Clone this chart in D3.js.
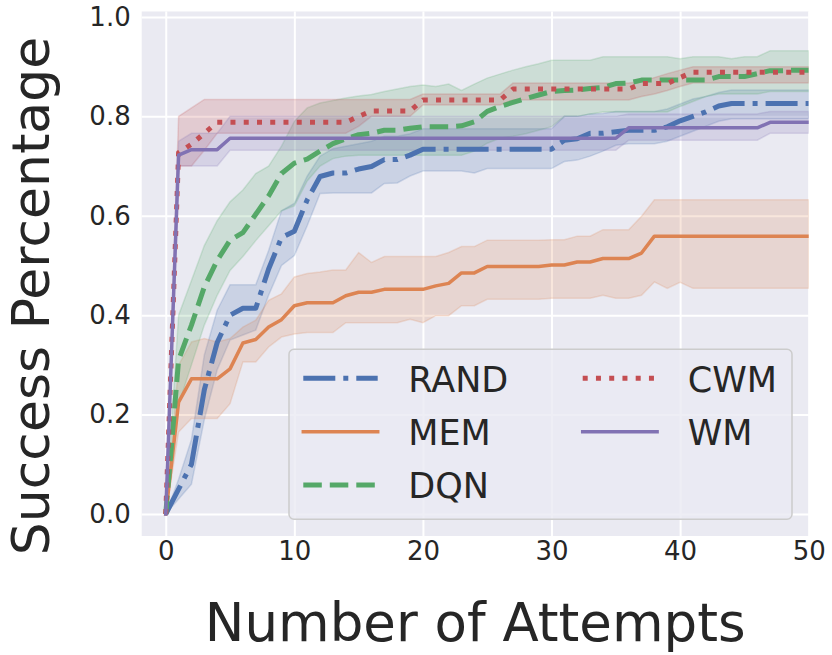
<!DOCTYPE html>
<html>
<head>
<meta charset="utf-8">
<script src="https://cdn.jsdelivr.net/npm/d3@7"></script>
<style>
  body { margin: 0; background: #fff; }
  svg text { font-family: "DejaVu Sans", sans-serif; fill: #262626; }
</style>
</head>
<body>
<svg id="canvas"></svg>
<script>
// data (attempt number -> success rate, with CI bands)
let attempts = [0,1,2,3,4,5,6,7,8,9,10,11,12,13,14,15,16,17,18,19,20,21,22,23,24,25,26,27,28,29,30,31,32,33,34,35,36,37,38,39,40,41,42,43,44,45,46,47,48,49,50];

let randMean = [0,0.05,0.10,0.25,0.345,0.40,0.414,0.414,0.493,0.556,0.569,0.632,0.679,0.686,0.686,0.694,0.699,0.713,0.713,0.722,0.734,0.734,0.734,0.734,0.734,0.734,0.734,0.734,0.734,0.734,0.734,0.752,0.755,0.766,0.766,0.769,0.772,0.772,0.772,0.779,0.791,0.80,0.809,0.821,0.826,0.826,0.826,0.826,0.826,0.826,0.826];
let randLo = [0,0.03,0.06,0.19,0.29,0.35,0.36,0.37,0.44,0.50,0.52,0.58,0.645,0.646,0.646,0.646,0.646,0.665,0.666,0.68,0.69,0.69,0.69,0.69,0.686,0.695,0.695,0.695,0.695,0.695,0.695,0.709,0.712,0.72,0.73,0.742,0.745,0.745,0.745,0.75,0.76,0.77,0.78,0.79,0.795,0.795,0.795,0.795,0.795,0.795,0.795];
let randHi = [0,0.07,0.15,0.32,0.41,0.461,0.461,0.461,0.53,0.61,0.625,0.68,0.72,0.735,0.74,0.745,0.75,0.76,0.76,0.765,0.775,0.775,0.775,0.775,0.775,0.775,0.775,0.775,0.775,0.775,0.775,0.80,0.80,0.805,0.806,0.81,0.81,0.81,0.81,0.815,0.825,0.835,0.84,0.848,0.853,0.853,0.853,0.853,0.853,0.853,0.853];

let memMean = [0,0.225,0.272,0.272,0.272,0.292,0.344,0.351,0.376,0.391,0.419,0.425,0.425,0.425,0.439,0.446,0.446,0.452,0.452,0.452,0.452,0.459,0.464,0.485,0.485,0.498,0.498,0.498,0.498,0.498,0.501,0.501,0.507,0.507,0.514,0.514,0.514,0.525,0.559,0.559,0.559,0.559,0.559,0.559,0.559,0.559,0.559,0.559,0.559,0.559,0.559];
let memLo = [0,0.165,0.192,0.192,0.192,0.222,0.306,0.306,0.336,0.356,0.362,0.365,0.365,0.365,0.385,0.385,0.385,0.385,0.385,0.392,0.385,0.399,0.399,0.419,0.419,0.432,0.432,0.432,0.432,0.432,0.434,0.434,0.434,0.434,0.44,0.434,0.434,0.44,0.467,0.454,0.466,0.454,0.454,0.454,0.454,0.454,0.454,0.454,0.454,0.454,0.454];
let memHi = [0,0.30,0.346,0.353,0.346,0.353,0.376,0.39,0.43,0.443,0.477,0.484,0.487,0.491,0.491,0.526,0.506,0.518,0.518,0.518,0.518,0.518,0.526,0.538,0.538,0.551,0.551,0.551,0.551,0.551,0.552,0.552,0.559,0.559,0.572,0.572,0.572,0.599,0.632,0.632,0.632,0.632,0.632,0.632,0.632,0.632,0.632,0.632,0.632,0.632,0.632];

let dqnMean = [0,0.31,0.38,0.457,0.51,0.551,0.566,0.603,0.64,0.685,0.706,0.714,0.73,0.745,0.755,0.763,0.766,0.772,0.772,0.776,0.779,0.779,0.779,0.781,0.789,0.81,0.82,0.828,0.836,0.843,0.85,0.852,0.853,0.856,0.858,0.866,0.867,0.873,0.873,0.873,0.873,0.873,0.873,0.88,0.88,0.88,0.886,0.892,0.892,0.893,0.893];
let dqnLo = [0,0.22,0.30,0.38,0.44,0.49,0.518,0.55,0.58,0.61,0.62,0.67,0.70,0.715,0.72,0.722,0.722,0.722,0.722,0.722,0.722,0.722,0.722,0.722,0.73,0.746,0.756,0.76,0.765,0.772,0.779,0.80,0.80,0.805,0.809,0.809,0.809,0.809,0.809,0.809,0.82,0.83,0.84,0.845,0.845,0.845,0.845,0.85,0.85,0.85,0.85];
let dqnHi = [0,0.40,0.47,0.54,0.59,0.628,0.652,0.685,0.70,0.74,0.79,0.817,0.827,0.832,0.837,0.841,0.844,0.85,0.855,0.86,0.863,0.86,0.865,0.852,0.865,0.877,0.885,0.893,0.90,0.906,0.913,0.913,0.913,0.913,0.92,0.92,0.92,0.92,0.92,0.92,0.916,0.92,0.92,0.92,0.916,0.92,0.92,0.932,0.932,0.932,0.932];

let cwmMean = [0,0.727,0.744,0.766,0.788,0.788,0.788,0.788,0.788,0.788,0.788,0.788,0.788,0.788,0.788,0.80,0.811,0.811,0.811,0.811,0.833,0.833,0.833,0.833,0.833,0.833,0.833,0.855,0.855,0.855,0.855,0.855,0.855,0.855,0.855,0.855,0.855,0.866,0.866,0.866,0.878,0.889,0.889,0.889,0.889,0.889,0.889,0.889,0.889,0.889,0.889];
let cwmLo = [0,0.70,0.70,0.732,0.766,0.766,0.766,0.766,0.766,0.766,0.766,0.766,0.766,0.766,0.766,0.78,0.80,0.80,0.80,0.80,0.823,0.823,0.823,0.823,0.823,0.823,0.823,0.833,0.833,0.833,0.833,0.833,0.833,0.833,0.833,0.833,0.833,0.84,0.845,0.852,0.86,0.867,0.867,0.867,0.867,0.867,0.867,0.867,0.867,0.867,0.867];
let cwmHi = [0,0.80,0.817,0.834,0.834,0.834,0.834,0.834,0.834,0.834,0.834,0.834,0.834,0.834,0.834,0.834,0.834,0.834,0.834,0.834,0.845,0.845,0.845,0.845,0.845,0.845,0.845,0.867,0.867,0.867,0.867,0.867,0.867,0.867,0.867,0.867,0.867,0.87,0.878,0.886,0.893,0.90,0.90,0.90,0.90,0.90,0.90,0.90,0.90,0.90,0.90];

let wmMean = [0,0.722,0.733,0.733,0.733,0.756,0.756,0.756,0.756,0.756,0.756,0.756,0.756,0.756,0.756,0.756,0.756,0.756,0.756,0.756,0.756,0.756,0.756,0.756,0.756,0.756,0.756,0.756,0.756,0.756,0.756,0.756,0.756,0.756,0.756,0.756,0.777,0.777,0.777,0.777,0.777,0.777,0.777,0.777,0.777,0.777,0.777,0.788,0.788,0.788,0.788];
let wmLo = [0,0.70,0.70,0.70,0.70,0.732,0.732,0.732,0.732,0.732,0.732,0.732,0.732,0.732,0.732,0.732,0.732,0.732,0.732,0.732,0.732,0.732,0.732,0.732,0.732,0.732,0.732,0.732,0.732,0.732,0.732,0.732,0.732,0.732,0.732,0.732,0.752,0.752,0.752,0.752,0.752,0.752,0.752,0.752,0.752,0.752,0.752,0.766,0.766,0.766,0.766];
let wmHi = [0,0.75,0.766,0.766,0.766,0.80,0.80,0.80,0.80,0.80,0.80,0.80,0.80,0.80,0.80,0.80,0.80,0.80,0.80,0.80,0.80,0.80,0.80,0.80,0.80,0.80,0.80,0.80,0.80,0.80,0.80,0.80,0.80,0.80,0.80,0.80,0.805,0.805,0.805,0.805,0.805,0.805,0.805,0.805,0.805,0.805,0.805,0.81,0.81,0.81,0.81];

let labels = ['RAND','MEM','DQN','CWM','WM'];
let xTicks = [0,10,20,30,40,50];
let yTicks = [0,0.2,0.4,0.6,0.8,1.0];

let series = [
  {name: labels[0], mean: randMean, lo: randLo, hi: randHi, color: '#4C72B0', width: 5,   dash: '32,8,5,8'},
  {name: labels[1], mean: memMean,  lo: memLo,  hi: memHi,  color: '#DD8452', width: 3.5, dash: null},
  {name: labels[2], mean: dqnMean,  lo: dqnLo,  hi: dqnHi,  color: '#55A868', width: 5,   dash: '18.5,8'},
  {name: labels[3], mean: cwmMean,  lo: cwmLo,  hi: cwmHi,  color: '#C44E52', width: 5,   dash: '5,8.25'},
  {name: labels[4], mean: wmMean,   lo: wmLo,   hi: wmHi,   color: '#8172B3', width: 3.5, dash: null}
];

let width = 832;
let height = 655;
let plotLeft = 141.7, plotRight = 808.7, plotTop = 11.5, plotBottom = 536;

let canvas = d3.select('#canvas')
canvas.attr('width', width)
canvas.attr('height', height)

let xScale = d3.scaleLinear().domain([-1.87, 50]).range([plotLeft, plotRight])
let yScale = d3.scaleLinear().domain([-0.0443, 1.011]).range([plotBottom, plotTop])

// axes background
canvas.append('rect')
  .attr('x', plotLeft).attr('y', plotTop)
  .attr('width', plotRight - plotLeft).attr('height', plotBottom - plotTop)
  .attr('fill', '#EAEAF2')

canvas.append('clipPath').attr('id', 'plotclip')
  .append('rect')
  .attr('x', plotLeft).attr('y', plotTop)
  .attr('width', plotRight - plotLeft).attr('height', plotBottom - plotTop)

let drawAxis = () => {
  let xAxis = d3.axisBottom(xScale)
    .tickValues(xTicks)
    .tickFormat(d3.format('d'))
    .tickSize(-(plotBottom - plotTop))
    .tickPadding(6)
  let gx = canvas.append('g')
    .attr('transform', `translate(0,${plotBottom})`)
    .call(xAxis)
  gx.select('.domain').remove()
  gx.selectAll('line').attr('stroke', '#fff').attr('stroke-width', 2)
  gx.selectAll('text').attr('font-size', 26).attr('font-family', 'DejaVu Sans').attr('fill', '#262626')

  let yAxis = d3.axisLeft(yScale)
    .tickValues(yTicks)
    .tickFormat(d3.format('.1f'))
    .tickSize(-(plotRight - plotLeft))
    .tickPadding(11)
  let gy = canvas.append('g')
    .attr('transform', `translate(${plotLeft},0)`)
    .call(yAxis)
  gy.select('.domain').remove()
  gy.selectAll('line').attr('stroke', '#fff').attr('stroke-width', 2)
  gy.selectAll('text').attr('font-size', 26).attr('font-family', 'DejaVu Sans').attr('fill', '#262626')
}

let drawSeries = () => {
  let plot = canvas.append('g').attr('clip-path', 'url(#plotclip)')

  let band = d3.area()
    .x((d, i) => xScale(attempts[i]))
    .y0(d => yScale(d[0]))
    .y1(d => yScale(d[1]))

  plot.selectAll('path.band')
    .data(series)
    .enter()
    .append('path')
    .attr('class', 'band')
    .attr('d', s => band(s.lo.map((v, i) => [v, s.hi[i]])))
    .attr('fill', s => s.color)
    .attr('fill-opacity', 0.2)
    .attr('stroke', s => s.color)
    .attr('stroke-opacity', 0.2)
    .attr('stroke-width', 1.5)

  let line = d3.line()
    .x((d, i) => xScale(attempts[i]))
    .y(d => yScale(d))

  plot.selectAll('path.mean')
    .data(series)
    .enter()
    .append('path')
    .attr('class', 'mean')
    .attr('d', s => line(s.mean))
    .attr('fill', 'none')
    .attr('stroke', s => s.color)
    .attr('stroke-width', s => s.width)
    .attr('stroke-dasharray', s => s.dash)
    .attr('stroke-linejoin', 'round')
    .attr('stroke-linecap', s => s.dash ? 'butt' : 'square')
}

let drawLegend = () => {
  let lg = canvas.append('g')
  lg.append('rect')
    .attr('x', 289).attr('y', 349.3)
    .attr('width', 503).attr('height', 170)
    .attr('rx', 5)
    .attr('fill', '#EAEAF2').attr('fill-opacity', 0.8)
    .attr('stroke', '#cccccc').attr('stroke-width', 1.5)

  let rows = [378.3, 431.7, 485]
  let cols = [303.3, 582.7]
  series.forEach((s, i) => {
    let c = Math.floor(i / 3), r = i % 3
    let x0 = cols[c], y0 = rows[r]
    lg.append('line')
      .attr('x1', x0).attr('x2', x0 + 74.4)
      .attr('y1', y0).attr('y2', y0)
      .attr('stroke', s.color)
      .attr('stroke-width', s.width)
      .attr('stroke-dasharray', s.dash)
      .attr('stroke-linecap', s.dash ? 'butt' : 'square')
    lg.append('text')
      .attr('x', x0 + 105)
      .attr('y', y0 + 13.4)
      .attr('font-size', 35)
      .text(s.name)
  })
}

let drawLabels = () => {
  canvas.append('text')
    .attr('x', (plotLeft + plotRight) / 2)
    .attr('y', 641)
    .attr('text-anchor', 'middle')
    .attr('font-size', 53)
    .text('Number of Attempts')

  canvas.append('text')
    .attr('transform', 'translate(48.5,296) rotate(-90)')
    .attr('text-anchor', 'middle')
    .attr('font-size', 52)
    .text('Success Percentage')
}

drawAxis();
drawSeries();
drawLegend();
drawLabels();
</script>
</body>
</html>
